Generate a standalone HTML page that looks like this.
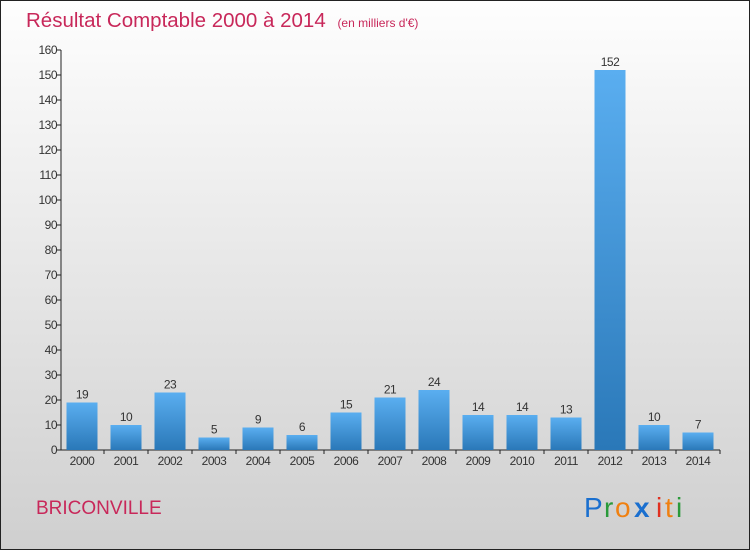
<!DOCTYPE html>
<html><head><meta charset="utf-8"><style>
body{margin:0;width:750px;height:550px;overflow:hidden}
svg{display:block}
text{font-family:"Liberation Sans",sans-serif}
</style></head><body>
<svg width="750" height="550">
<defs>
<linearGradient id="bg" x1="0" y1="0" x2="0" y2="1"><stop offset="0" stop-color="#fefefe"/><stop offset="1" stop-color="#cfcfcf"/></linearGradient>
<linearGradient id="bar" x1="0" y1="0" x2="0" y2="1"><stop offset="0" stop-color="#5aaef0"/><stop offset="1" stop-color="#2a78b8"/></linearGradient>
</defs>
<rect x="0.5" y="0.5" width="749" height="549" fill="url(#bg)" stroke="#222"/>
<text x="26" y="27" font-size="20.5" fill="#c8285a">Résultat Comptable 2000 à 2014 <tspan font-size="12" dx="6">(en milliers d'€)</tspan></text>
<g id="axes"></g>
<g id="bars"></g>
<text x="36" y="514" font-size="19" fill="#c8285a">BRICONVILLE</text>
<g font-size="28">
<text x="584" y="517" fill="#1a6fcf">P</text><text x="604" y="517" fill="#2a9a3a">r</text><text x="615" y="517" fill="#f08010">o</text><text x="634" y="517" fill="#1a6fcf" font-weight="bold">x</text><text x="656" y="517" fill="#e03020">i</text><text x="665" y="517" fill="#f08010">t</text><text x="676" y="517" fill="#2a9a3a">i</text>
</g>
</svg>
<script>
const years=["2000","2001","2002","2003","2004","2005","2006","2007","2008","2009","2010","2011","2012","2013","2014"];
const values=[19,10,23,5,9,6,15,21,24,14,14,13,152,10,7];
const ticks=[0,10,20,30,40,50,60,70,80,90,100,110,120,130,140,150,160];
const NS="http://www.w3.org/2000/svg";
const y=v=>450-v*2.5, x=i=>82+i*44;
function mk(t,a,p,txt){const e=document.createElementNS(NS,t);for(const k in a)e.setAttribute(k,a[k]);if(txt!==undefined)e.textContent=txt;p.appendChild(e);return e;}
const ax=document.getElementById('axes'), bg=document.getElementById('bars');
let l=mk('line',{x1:61,y1:50,x2:61,y2:450,stroke:'#222'},ax);


l=mk('line',{x1:61,y1:450,x2:720,y2:450,stroke:'#222'},ax);


ticks.forEach(t=>{
 mk('line',{x1:57,x2:61,y1:y(t),y2:y(t),stroke:'#222'},ax);
 const e=mk('text',{x:57,y:y(t)+4,'font-size':12,'text-anchor':'end',fill:'#333','letter-spacing':'-0.5'},ax,t);
 
 
});
years.forEach((yr,i)=>{
 mk('line',{x1:x(i)+22,x2:x(i)+22,y1:450,y2:454,stroke:'#222'},ax);
 const e=mk('text',{x:x(i),y:465,'font-size':12,'text-anchor':'middle',fill:'#333','letter-spacing':'-0.5'},ax,yr);
 
 
 const b=mk('rect',{x:x(i)-15.5,y:y(values[i]),width:31,height:450-y(values[i]),fill:'url(#bar)'},bg);
 
 
 const v=mk('text',{x:x(i),y:y(values[i])-4,'font-size':12,'text-anchor':'middle',fill:'#333','letter-spacing':'-0.5'},bg,values[i]);
 
 
});
</script>
</body></html>
